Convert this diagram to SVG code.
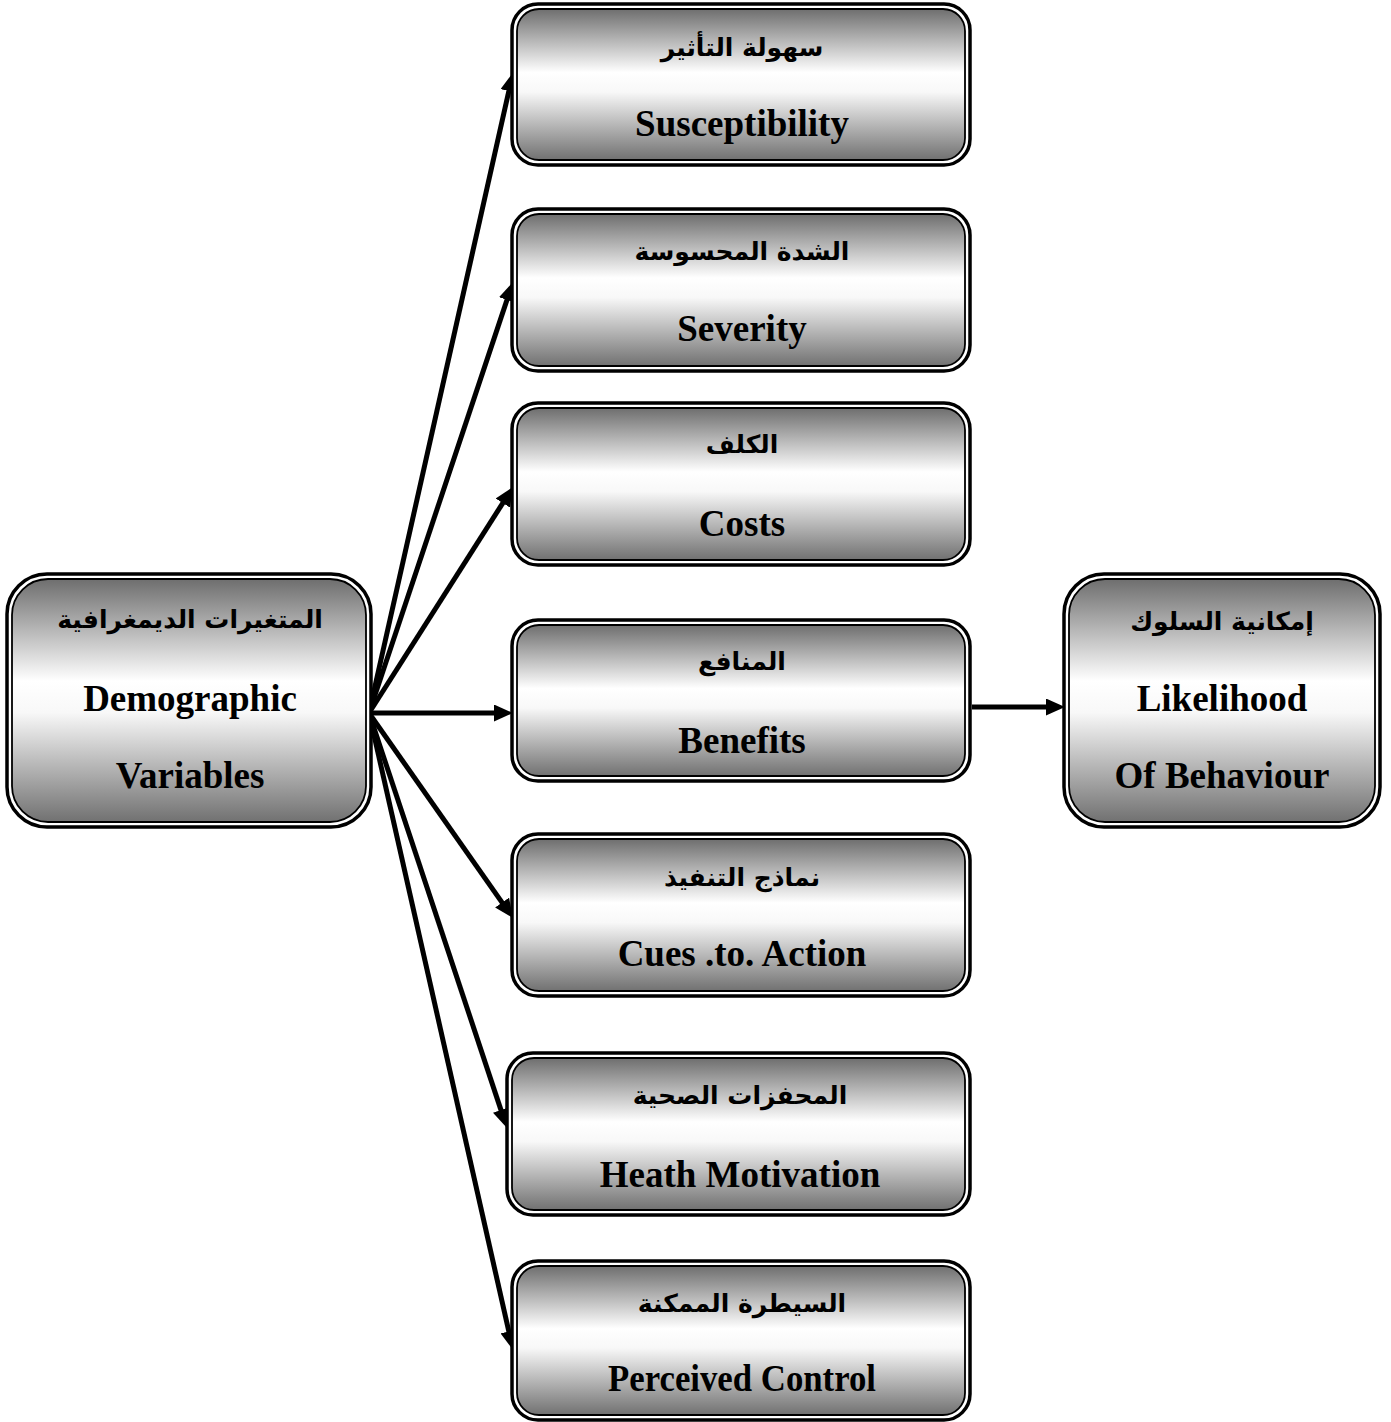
<svg xmlns="http://www.w3.org/2000/svg" width="1391" height="1422" viewBox="0 0 1391 1422">
<defs>
<linearGradient id="g" x1="0" y1="0" x2="0" y2="1">
<stop offset="0" stop-color="#6e6e6e"/>
<stop offset="0.42" stop-color="#ffffff"/>
<stop offset="0.55" stop-color="#f8f8f8"/>
<stop offset="1" stop-color="#717171"/>
</linearGradient>
<marker id="ah" markerUnits="userSpaceOnUse" markerWidth="19" markerHeight="17" viewBox="0 0 19 17" refX="8" refY="8.5" orient="auto">
<path d="M0,0 L19,8.5 L0,17 z" fill="#000"/>
</marker>
<style>
.o{fill:#fff;stroke:#000;stroke-width:3.5}
.i{fill:url(#g);stroke:#000;stroke-width:1.8}
.en{font-family:"Liberation Serif","Times New Roman",serif;font-weight:bold;font-size:37px;fill:#000;text-anchor:middle}
.ar{font-family:"DejaVu Sans","Noto Sans",sans-serif;font-weight:bold;font-size:25px;fill:#000;text-anchor:middle}
.c{stroke:#000;stroke-width:5;fill:none;marker-end:url(#ah)}
</style>
</defs>
<rect width="1391" height="1422" fill="#fff"/>
<g id="connectors">
<line class="c" x1="369" y1="713" x2="510.6" y2="83.2"/>
<line class="c" x1="369" y1="713" x2="509.5" y2="292.4"/>
<line class="c" x1="369" y1="713" x2="507.1" y2="496.3"/>
<line class="c" x1="369" y1="713" x2="502" y2="713"/>
<line class="c" x1="369" y1="713" x2="506.7" y2="909.1"/>
<line class="c" x1="369" y1="713" x2="503.5" y2="1117.6"/>
<line class="c" x1="369" y1="713" x2="510.6" y2="1339.3"/>
<line class="c" x1="972" y1="707" x2="1054" y2="707"/>
</g>
<g id="demographic">
<rect class="o" x="7" y="574" width="364" height="253" rx="40"/>
<rect class="i" x="12" y="579" width="354" height="243" rx="36"/>
<text class="ar" x="190" y="628" direction="rtl">المتغيرات الديمغرافية</text>
<text class="en" x="190" y="711">Demographic</text>
<text class="en" x="190" y="788">Variables</text>
</g>
<g id="susceptibility">
<rect class="o" x="512" y="4" width="458" height="161" rx="26"/>
<rect class="i" x="517" y="9" width="448" height="151" rx="22"/>
<text class="ar" x="742" y="56" direction="rtl">سهولة التأثير</text>
<text class="en" x="742" y="136">Susceptibility</text>
</g>
<g id="severity">
<rect class="o" x="512" y="209" width="458" height="162" rx="26"/>
<rect class="i" x="517" y="214" width="448" height="152" rx="22"/>
<text class="ar" x="742" y="260" direction="rtl">الشدة المحسوسة</text>
<text class="en" x="742" y="341">Severity</text>
</g>
<g id="costs">
<rect class="o" x="512" y="403" width="458" height="162" rx="26"/>
<rect class="i" x="517" y="408" width="448" height="152" rx="22"/>
<text class="ar" x="742" y="453" direction="rtl">الكلف</text>
<text class="en" x="742" y="536">Costs</text>
</g>
<g id="benefits">
<rect class="o" x="512" y="620" width="458" height="161" rx="26"/>
<rect class="i" x="517" y="625" width="448" height="151" rx="22"/>
<text class="ar" x="742" y="670" direction="rtl">المنافع</text>
<text class="en" x="742" y="753">Benefits</text>
</g>
<g id="cues">
<rect class="o" x="512" y="834" width="458" height="162" rx="26"/>
<rect class="i" x="517" y="839" width="448" height="152" rx="22"/>
<text class="ar" x="742" y="886" direction="rtl">نماذج التنفيذ</text>
<text class="en" x="742" y="966">Cues .to. Action</text>
</g>
<g id="health-motivation">
<rect class="o" x="507" y="1053" width="463" height="162" rx="26"/>
<rect class="i" x="512" y="1058" width="453" height="152" rx="22"/>
<text class="ar" x="740" y="1104" direction="rtl">المحفزات الصحية</text>
<text class="en" x="740" y="1187">Heath Motivation</text>
</g>
<g id="perceived-control">
<rect class="o" x="512" y="1261" width="458" height="159" rx="26"/>
<rect class="i" x="517" y="1266" width="448" height="149" rx="22"/>
<text class="ar" x="742" y="1312" direction="rtl">السيطرة الممكنة</text>
<text class="en" x="742" y="1391" textLength="268" lengthAdjust="spacingAndGlyphs">Perceived Control</text>
</g>
<g id="likelihood">
<rect class="o" x="1064" y="574" width="316" height="253" rx="40"/>
<rect class="i" x="1069" y="579" width="306" height="243" rx="36"/>
<text class="ar" x="1222" y="630" direction="rtl">إمكانية السلوك</text>
<text class="en" x="1222" y="711">Likelihood</text>
<text class="en" x="1222" y="788">Of Behaviour</text>
</g>
</svg>
